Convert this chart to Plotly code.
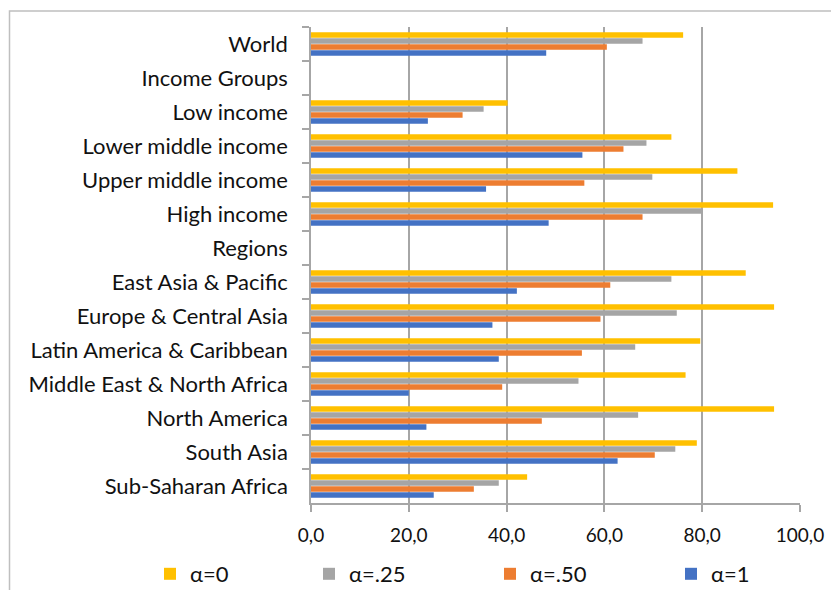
import plotly.graph_objects as go

categories = ["World", "Income Groups", "Low income", "Lower middle income",
              "Upper middle income", "High income", "Regions",
              "East Asia & Pacific", "Europe & Central Asia",
              "Latin America & Caribbean", "Middle East & North Africa",
              "North America", "South Asia", "Sub-Saharan Africa"]

alpha_0 = [76.1, None, 40.2, 73.7, 87.2, 94.5, None, 88.9, 94.7, 79.6, 76.6, 94.7, 78.9, 44.2]
alpha_25 = [67.8, None, 35.3, 68.6, 69.8, 80.0, None, 73.7, 74.8, 66.3, 54.7, 66.9, 74.5, 38.4]
alpha_50 = [60.5, None, 31.0, 63.9, 55.9, 67.8, None, 61.2, 59.2, 55.4, 39.1, 47.2, 70.3, 33.3]
alpha_1 = [48.1, None, 23.9, 55.5, 35.8, 48.6, None, 42.1, 37.1, 38.4, 20.0, 23.6, 62.7, 25.1]

series_names = ["α=0", "α=.25", "α=.50", "α=1"]
series_values = [alpha_0, alpha_25, alpha_50, alpha_1]
colors = ["#FFC000", "#A5A5A5", "#ED7D31", "#4472C4"]

x_ticks = [0, 20, 40, 60, 80, 100]

W, H = 831, 590
ML, MR, MT, MB = 311, 31, 27, 87
pw = W - ML - MR
ph = H - MT - MB

def px_x(p):
    return (p - ML) / pw

def px_y(p):
    return (H - MB - p) / ph

legend_x_px = [150, 309, 490, 671]
legend_keys = ["legend", "legend2", "legend3", "legend4"]

fig = go.Figure()
for name, vals, col, lk in zip(series_names, series_values, colors, legend_keys):
    fig.add_trace(go.Bar(
        y=categories, x=vals, name=name, orientation="h",
        marker=dict(color=col, line=dict(width=0)),
        legend=lk,
    ))

font_family = "Lato, 'Open Sans', sans-serif"
text_color = "#111111"
legend_common = dict(
    orientation="h", yanchor="middle", xanchor="left",
    font=dict(family=font_family, size=22, color=text_color),
    bgcolor="rgba(0,0,0,0)", itemwidth=30,
)
layout_legends = {}
for lk, lx in zip(legend_keys, legend_x_px):
    layout_legends[lk] = dict(legend_common, x=px_x(lx), y=px_y(574))

fig.update_layout(
    width=W, height=H,
    margin=dict(l=ML, r=MR, t=MT, b=MB, autoexpand=False),
    paper_bgcolor="white", plot_bgcolor="white",
    barmode="group", bargap=0.29, bargroupgap=0.1,
    separators=", ",
    showlegend=True,
    font=dict(family=font_family, size=18, color=text_color),
    xaxis=dict(
        range=[0, 100], tickvals=x_ticks, tickformat=".1f",
        showgrid=True, gridcolor="#A6A6A6", gridwidth=1.5,
        showline=True, linecolor="#A6A6A6", linewidth=1.5,
        ticks="outside", ticklen=7, tickcolor="#A6A6A6", tickwidth=1.5,
        ticklabelstandoff=7, zeroline=False, automargin=False,
        tickfont=dict(size=19, color=text_color),
    ),
    yaxis=dict(
        categoryorder="array", categoryarray=categories,
        autorange="reversed", tickson="boundaries",
        showgrid=False, showline=True, linecolor="#A6A6A6", linewidth=1.5,
        ticks="outside", ticklen=7, tickcolor="#A6A6A6", tickwidth=1.5,
        ticklabelstandoff=17, automargin=False,
        tickfont=dict(size=22, color=text_color),
    ),
    shapes=[dict(
        type="rect", xref="paper", yref="paper",
        x0=px_x(9.5), x1=px_x(840), y0=px_y(600), y1=px_y(11),
        line=dict(color="#BFBFBF", width=1.5), fillcolor="rgba(0,0,0,0)",
        layer="below",
    )],
    **layout_legends,
)

fig.write_html("out.html")
